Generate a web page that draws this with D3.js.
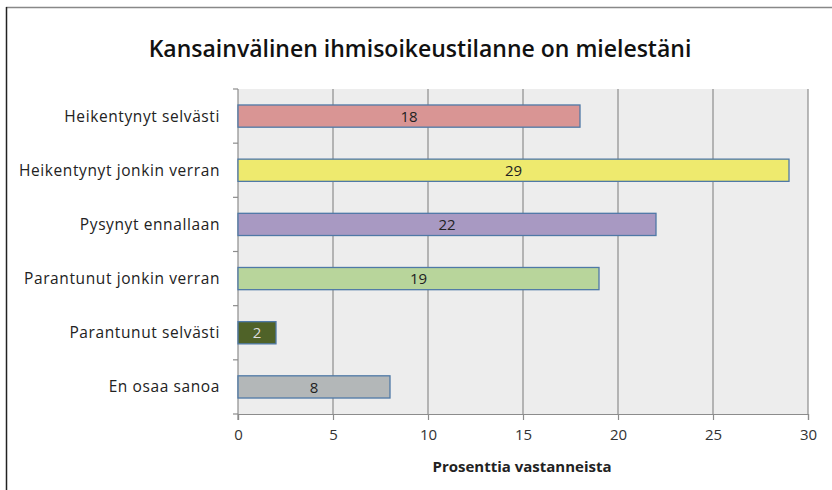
<!DOCTYPE html>
<html>
<head>
<meta charset="utf-8">
<script src="https://cdn.jsdelivr.net/npm/d3@7"></script>
<style>
  body { margin: 0; background: #fff; }
  text { font-family: "Open Sans", "Liberation Sans", sans-serif; }
</style>
</head>
<body>
<svg id="chart"></svg>
<script>
// data
const categories = ["Heikentynyt selvästi", "Heikentynyt jonkin verran", "Pysynyt ennallaan",
  "Parantunut jonkin verran", "Parantunut selvästi", "En osaa sanoa"];
const values = [18, 29, 22, 19, 2, 8];
const barColors = ["#d99594", "#eeea6e", "#a899c2", "#b8d59b", "#4f6228", "#b3b7b8"];
const labelColors = ["#222", "#222", "#222", "#222", "#ddd", "#222"];
const xTicks = [0, 5, 10, 15, 20, 25, 30];

const W = 832, H = 490;
const svg = d3.select("#chart").attr("width", W).attr("height", H);

// outer frame of the chart
svg.append("line").attr("x1", 6).attr("x2", W).attr("y1", 7.5).attr("y2", 7.5)
  .attr("stroke", "#888").attr("stroke-width", 1.5);
svg.append("line").attr("x1", 6.5).attr("x2", 6.5).attr("y1", 7).attr("y2", H)
  .attr("stroke", "#222").attr("stroke-width", 1.5);

const margin = { left: 238, right: 24, top: 89, bottom: 76 };
const x = d3.scaleLinear().domain([0, 30]).range([margin.left, W - margin.right]);
const y = d3.scaleBand().domain(categories).range([margin.top, H - margin.bottom]).paddingInner(0.59).paddingOuter(0.295);

// plot background
svg.append("rect")
  .attr("x", x(0)).attr("y", margin.top)
  .attr("width", x(30) - x(0)).attr("height", H - margin.bottom - margin.top)
  .attr("fill", "#ededed");

// vertical grid
svg.append("g").selectAll("line").data(xTicks.slice(1)).enter().append("line")
  .attr("x1", d => x(d)).attr("x2", d => x(d))
  .attr("y1", margin.top).attr("y2", H - margin.bottom)
  .attr("stroke", "#8c8c8c").attr("stroke-width", 1.2);

// bottom axis
const xAxis = svg.append("g")
  .attr("transform", `translate(0,${H - margin.bottom})`)
  .call(d3.axisBottom(x).tickValues(xTicks).tickSize(6).tickPadding(9));
xAxis.select(".domain").attr("stroke", "#8c8c8c").attr("stroke-width", 1.2);
xAxis.selectAll(".tick line").attr("stroke", "#8c8c8c").attr("stroke-width", 1.2);
xAxis.selectAll("text").attr("font-size", 15).attr("fill", "#333");

// left axis with ticks between categories
const bandH = (H - margin.bottom - margin.top) / categories.length;
const yEdges = d3.range(categories.length + 1).map(i => margin.top + i * bandH);
svg.append("line").attr("x1", x(0)).attr("x2", x(0))
  .attr("y1", margin.top).attr("y2", H - margin.bottom + 6)
  .attr("stroke", "#8c8c8c").attr("stroke-width", 1.2);
svg.append("g").selectAll("line").data(yEdges).enter().append("line")
  .attr("x1", x(0) - 5).attr("x2", x(0))
  .attr("y1", d => d).attr("y2", d => d)
  .attr("stroke", "#8c8c8c").attr("stroke-width", 1.2);

// category labels
svg.append("g").selectAll("text").data(categories).enter().append("text")
  .attr("x", 220)
  .attr("y", d => y(d) + y.bandwidth() / 2)
  .attr("dy", "0.35em")
  .attr("text-anchor", "end")
  .attr("font-size", 15.5)
  .attr("letter-spacing", 0.6)
  .attr("fill", "#222")
  .text(d => d);

// bars
svg.append("g").selectAll("rect").data(values).enter().append("rect")
  .attr("x", x(0))
  .attr("y", (d, i) => y(categories[i]))
  .attr("width", d => x(d) - x(0))
  .attr("height", y.bandwidth())
  .attr("fill", (d, i) => barColors[i])
  .attr("stroke", "#4f79a6")
  .attr("stroke-width", 1.3);

// value labels
svg.append("g").selectAll("text").data(values).enter().append("text")
  .attr("x", d => (x(0) + x(d)) / 2)
  .attr("y", (d, i) => y(categories[i]) + y.bandwidth() / 2)
  .attr("dy", "0.38em")
  .attr("text-anchor", "middle")
  .attr("font-size", 15)
  .attr("fill", (d, i) => labelColors[i])
  .text(d => d);

// title
svg.append("text")
  .attr("x", 420).attr("y", 57)
  .attr("text-anchor", "middle")
  .attr("font-size", 23)
  .attr("font-weight", 600)
  .attr("fill", "#111")
  .text("Kansainvälinen ihmisoikeustilanne on mielestäni");

// axis title
svg.append("text")
  .attr("x", 522).attr("y", 472)
  .attr("text-anchor", "middle")
  .attr("font-size", 15)
  .attr("font-weight", "bold")
  .attr("fill", "#222")
  .text("Prosenttia vastanneista");
</script>
</body>
</html>
